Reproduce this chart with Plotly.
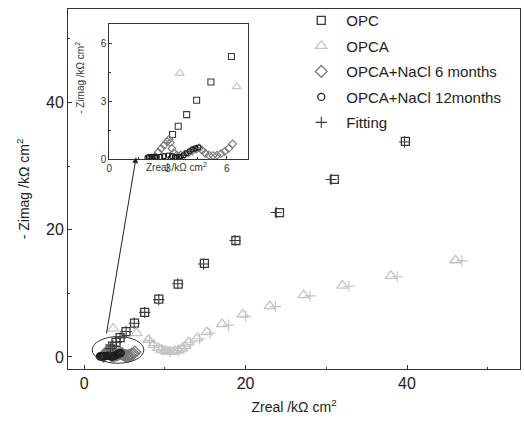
import plotly.graph_objects as go

# ---------------- data ----------------
opc_x = [3.23, 3.52, 3.95, 4.46, 5.19, 6.24, 7.5, 9.25, 11.65, 14.9, 18.8, 24.2, 31.0, 39.8]
opc_y = [1.27, 1.70, 2.30, 3.04, 3.99, 5.31, 7.0, 9.1, 11.45, 14.7, 18.3, 22.7, 27.9, 33.9]

opca_x = [3.6, 6.5, 7.97, 8.6, 9.2, 9.6, 10.0, 10.3, 10.66, 11.0, 11.3, 11.7, 12.1, 12.5, 12.9,
          13.96, 15.2, 17.1, 19.65, 23.0, 27.2, 32.0, 38.0, 46.0]
opca_y = [4.45, 3.75, 2.7, 1.9, 1.4, 1.1, 0.95, 0.85, 0.8, 0.82, 0.9, 1.05, 1.3, 1.7, 2.3,
          2.9, 3.9, 5.15, 6.65, 8.0, 9.7, 11.2, 12.75, 15.2]

m6_x = [2.35, 2.5, 2.65, 2.8, 2.95, 3.05, 3.12, 3.2, 3.3, 3.45, 3.65, 3.85, 4.05, 4.25,
        4.45, 4.6, 4.75, 4.9, 5.1, 5.3, 5.5, 5.7, 5.9, 6.1, 6.3]
m6_y = [0.12, 0.35, 0.55, 0.72, 0.9, 1.02, 0.85, 0.55, 0.32, 0.2, 0.2, 0.25, 0.32, 0.42,
        0.52, 0.58, 0.45, 0.3, 0.2, 0.18, 0.2, 0.28, 0.4, 0.55, 0.78]

m12_x = [1.95, 2.02, 2.1, 2.18, 2.26, 2.34, 2.42, 2.6, 2.8, 3.0, 3.2, 3.35, 3.45, 3.55,
         3.65, 3.8, 3.95, 4.1, 4.25, 4.4, 4.55]
m12_y = [0.08, 0.1, 0.1, 0.12, 0.12, 0.1, 0.1, 0.12, 0.15, 0.18, 0.15, 0.1, 0.08, 0.1,
         0.12, 0.2, 0.3, 0.4, 0.5, 0.55, 0.6]

fit_opc_x = [3.25, 3.55, 3.95, 4.45, 5.2, 6.2, 7.5, 9.25, 11.6, 14.8, 18.7, 23.8, 30.6, 39.7]
fit_opc_y = [1.3, 1.72, 2.3, 3.0, 4.0, 5.3, 7.0, 9.0, 11.5, 14.6, 18.3, 22.7, 27.9, 33.8]

fit_opca_x = [8.1, 8.7, 9.6, 10.6, 11.6, 12.4, 13.2, 14.3, 15.6, 17.9, 20.0, 23.7, 28.0, 32.8, 38.8, 46.8]
fit_opca_y = [2.6, 1.8, 1.1, 0.8, 1.0, 1.6, 2.3, 2.85, 3.75, 5.0, 6.4, 7.9, 9.6, 11.1, 12.6, 15.1]

legend_names = ["OPC", "OPCA", "OPCA+NaCl 6 months", "OPCA+NaCl 12months", "Fitting"]

# ---------------- styles ----------------
FONT = "Arial, Liberation Sans, sans-serif"
c_opc = "#3a3a3a"
c_opca = "#c4c4c4"
c_m6 = "#777777"
c_m12 = "#1e1e1e"

fig = go.Figure()

# main plot
fig.add_trace(go.Scatter(x=opc_x, y=opc_y, mode="markers", name=legend_names[0], legendgroup="g1",
                         marker=dict(symbol="square-open", size=8, color=c_opc, line=dict(width=1.3))))
fig.add_trace(go.Scatter(x=opca_x, y=opca_y, mode="markers", name=legend_names[1], legendgroup="g2",
                         marker=dict(symbol="triangle-up-open", size=10, color=c_opca, line=dict(width=1.3))))
fig.add_trace(go.Scatter(x=m6_x, y=m6_y, mode="markers", name=legend_names[2], legendgroup="g3",
                         marker=dict(symbol="diamond-open", size=9, color=c_m6, line=dict(width=1.3))))
fig.add_trace(go.Scatter(x=m12_x, y=m12_y, mode="markers", name=legend_names[3], legendgroup="g4",
                         marker=dict(symbol="circle-open", size=7, color=c_m12, line=dict(width=1.3))))
fig.add_trace(go.Scatter(x=fit_opc_x, y=fit_opc_y, mode="markers", name=legend_names[4], legendgroup="g5",
                         marker=dict(symbol="cross-thin-open", size=8, color=c_opc, line=dict(width=1.1, color=c_opc))))
fig.add_trace(go.Scatter(x=fit_opca_x, y=fit_opca_y, mode="markers", showlegend=False, legendgroup="g5",
                         marker=dict(symbol="cross-thin-open", size=8, color=c_opca, line=dict(width=1.1, color=c_opca))))

# inset
fig.add_trace(go.Scatter(x=opc_x, y=opc_y, mode="markers", xaxis="x2", yaxis="y2", showlegend=False,
                         marker=dict(symbol="square-open", size=6, color=c_opc, line=dict(width=1.1))))
fig.add_trace(go.Scatter(x=opca_x, y=opca_y, mode="markers", xaxis="x2", yaxis="y2", showlegend=False,
                         marker=dict(symbol="triangle-up-open", size=8, color=c_opca, line=dict(width=1.1))))
fig.add_trace(go.Scatter(x=m6_x, y=m6_y, mode="markers", xaxis="x2", yaxis="y2", showlegend=False,
                         marker=dict(symbol="diamond-open", size=6, color=c_m6, line=dict(width=1.1))))
fig.add_trace(go.Scatter(x=m12_x, y=m12_y, mode="markers", xaxis="x2", yaxis="y2", showlegend=False,
                         marker=dict(symbol="circle-open", size=5, color=c_m12, line=dict(width=1.1))))

axis_common = dict(showline=True, linecolor="#333", linewidth=1, mirror=True, showgrid=False,
                   zeroline=False, ticks="inside", tickcolor="#333", ticklen=4, automargin=False,
                   tickfont=dict(family=FONT, size=16, color="#222"))

fig.update_layout(
    width=524, height=423,
    margin=dict(l=68, r=4, t=5, b=54),
    paper_bgcolor="white", plot_bgcolor="white",
    font=dict(family=FONT, color="#222"),
    xaxis=dict(**axis_common, range=[-2, 54], dtick=20, tick0=0,
               minor=dict(dtick=10, ticks="inside", ticklen=2, tickcolor="#333"),
               title=dict(text="Zreal /kΩ cm<sup>2</sup>", font=dict(family=FONT, size=14), standoff=10)),
    yaxis=dict(**axis_common, range=[-1.9, 54.7], dtick=20, tick0=0,
               minor=dict(dtick=10, ticks="inside", ticklen=2, tickcolor="#333"),
               title=dict(text="- Zimag /kΩ cm<sup>2</sup>", font=dict(family=FONT, size=14), standoff=13)),
    xaxis2=dict(showline=True, linecolor="#333", linewidth=1, mirror=True, showgrid=False, zeroline=False,
                ticks="inside", ticklen=3, tickcolor="#333", range=[0, 7.07], dtick=3, tick0=0,
                automargin=False,
                minor=dict(dtick=1.5, ticks="inside", ticklen=2, tickcolor="#333"),
                tickfont=dict(family=FONT, size=10, color="#333"),
                domain=[0.0914, 0.3976], anchor="y2"),
    yaxis2=dict(showline=True, linecolor="#333", linewidth=1, mirror=True, showgrid=False, zeroline=False,
                ticks="inside", ticklen=3, tickcolor="#333", range=[0, 7.0], dtick=3, tick0=0,
                automargin=False,
                minor=dict(dtick=1.5, ticks="inside", ticklen=2, tickcolor="#333"),
                tickfont=dict(family=FONT, size=10, color="#333"),
                domain=[0.5832, 0.9588], anchor="x2"),
    legend=dict(x=0.505, y=1.0135, xanchor="left", yanchor="top",
                bgcolor="rgba(0,0,0,0)", itemwidth=40,
                font=dict(family=FONT, size=15, color="#222"), tracegroupgap=3, itemsizing="trace"),
    showlegend=True,
)

# inset axis titles (overlapping the tick labels as in the original)
fig.add_annotation(text="Zreal /kΩ cm<sup>2</sup>", xref="paper", yref="paper", x=0.2405, y=0.5604,
                   showarrow=False, font=dict(family=FONT, size=10, color="#333"),
                   xanchor="center", yanchor="middle")
fig.add_annotation(text="- Zimag /kΩ cm<sup>2</sup>", xref="paper", yref="paper", x=0.026, y=0.808,
                   textangle=-90, showarrow=False, font=dict(family=FONT, size=10, color="#333"),
                   xanchor="center", yanchor="middle")

# ellipse around the zoomed region
fig.add_shape(type="circle", xref="x", yref="y", x0=1.0, x1=7.4, y0=-1.0, y1=3.2,
              line=dict(color="#333", width=1))
# arrow to the inset
fig.add_annotation(x=6.44, y=31.4, ax=2.73, ay=3.42, xref="x", yref="y", axref="x", ayref="y",
                   text="", showarrow=True, arrowhead=2, arrowsize=1.2, arrowwidth=1, arrowcolor="#222")

fig.write_html("out.html", config={"displayModeBar": False},
               post_script="document.body.style.margin='0px';document.body.style.padding='0px';")
